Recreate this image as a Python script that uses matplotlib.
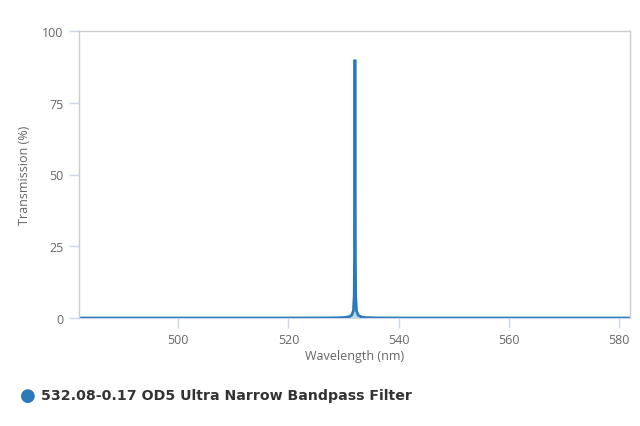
import matplotlib
matplotlib.use("Agg")
import matplotlib.pyplot as plt

# transmission spectrum
wavelength = [482, 500, 520, 528, 530, 531, 531.5, 531.8, 531.95, 532.0, 532.04,
              532.08, 532.12, 532.16, 532.21, 532.36, 532.66, 533.2, 534, 536,
              540, 560, 582]
transmission = [0, 0, 0, 0.05, 0.15, 0.4, 1.0, 2.5, 8, 22, 62,
                90, 62, 22, 8, 2.5, 1.0, 0.4, 0.15, 0.05,
                0, 0, 0]

x_ticks = [500, 520, 540, 560, 580]
y_ticks = [0, 25, 50, 75, 100]
series_name = "532.08-0.17 OD5 Ultra Narrow Bandpass Filter"

line_color = "#2a7ab9"
text_color = "#666666"
tick_color = "#ccd6eb"

plt.rcParams['font.family'] = ['Open Sans', 'DejaVu Sans']

fig = plt.figure(figsize=(6.4, 4.27), dpi=100)
ax = fig.add_axes([79 / 640, 108 / 427, 551 / 640, 287 / 427])

ax.fill_between(wavelength, transmission, 0, color=line_color, alpha=0.3, lw=0)
ax.plot(wavelength, transmission, color=line_color, lw=2, solid_joinstyle='miter')

ax.set_xlim(482, 582)
ax.set_ylim(0, 100)
ax.set_xticks(x_ticks)
ax.set_yticks(y_ticks)

for side in ['left', 'top', 'right']:
    ax.spines[side].set_color('#cccccc')
    ax.spines[side].set_linewidth(1)
ax.spines['bottom'].set_color(tick_color)

ax.tick_params(axis='x', colors=tick_color, length=7, width=1, labelcolor=text_color,
               labelsize=9, pad=4)
ax.tick_params(axis='y', colors=tick_color, length=7, width=1, labelcolor=text_color,
               labelsize=9, pad=4)

ax.set_xlabel("Wavelength (nm)", color=text_color, fontsize=9, labelpad=2)
ax.set_ylabel("Transmission (%)", color=text_color, fontsize=9, labelpad=8)

# legend drawn as marker + bold text below the plot
fig.text(28 / 640, 1 - 396 / 427, "\u25cf", color=line_color, fontsize=13,
         ha='center', va='center', family='DejaVu Sans')
fig.text(41 / 640, 1 - 396 / 427, series_name, color='#333333', fontsize=10.2,
         fontweight='bold', ha='left', va='center', family='DejaVu Sans')

fig.savefig("out.png", dpi=100)
